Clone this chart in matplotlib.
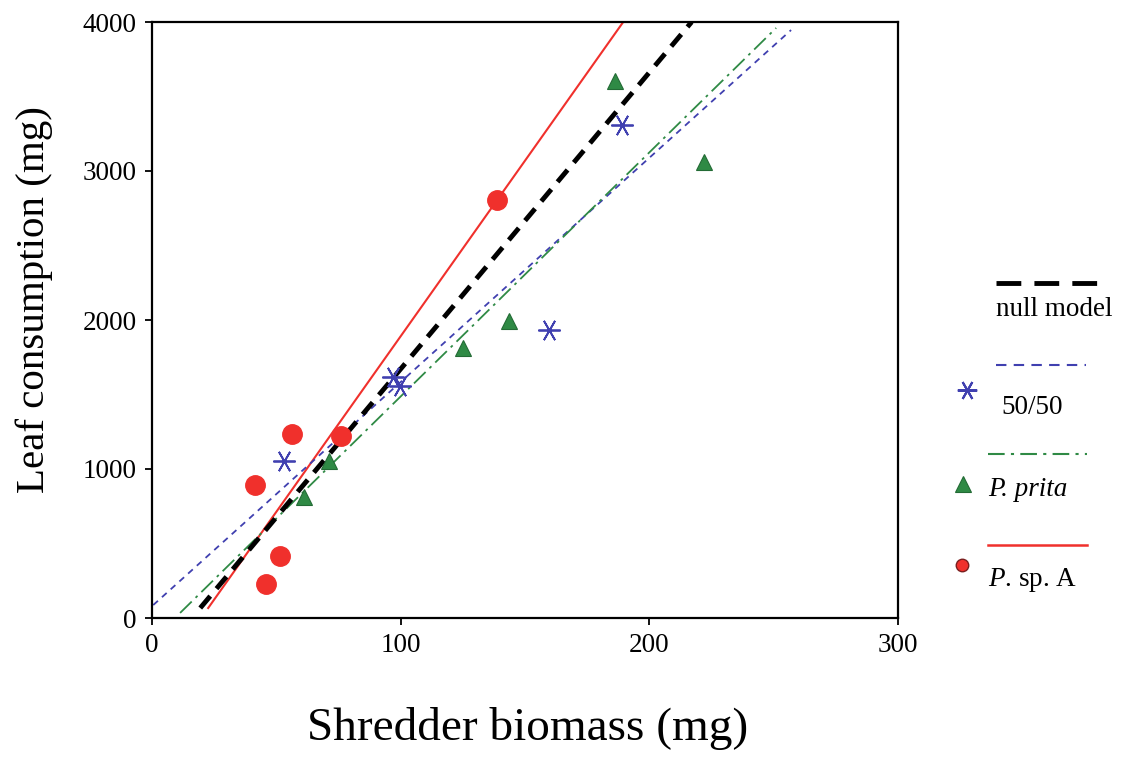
import matplotlib
matplotlib.use("Agg")
import matplotlib.pyplot as plt
import numpy as np

plt.rcParams['font.family'] = ['Liberation Serif', 'DejaVu Serif']
plt.rcParams['mathtext.fontset'] = 'custom'
plt.rcParams['mathtext.rm'] = 'Liberation Serif'
plt.rcParams['mathtext.it'] = 'Liberation Serif:italic'

# observed points
spA_x = [41.5, 56.5, 51.6, 46.0, 76.0, 138.7]
spA_y = [893, 1235, 416, 228, 1221, 2805]

mix_x = [53.0, 97.0, 99.6, 159.7, 189.0]
mix_y = [1054, 1617, 1557, 1933, 3309]

prita_x = [61.0, 71.0, 125.0, 143.5, 186.0, 222.0]
prita_y = [812, 1054, 1812, 1993, 3604, 3060]

# fitted lines (end points)
null_x = [19.4, 217.0]
null_y = [67, 4000]
mix_fit_x = [0.5, 257.0]
mix_fit_y = [87, 3946]
prita_fit_x = [11.3, 251.0]
prita_fit_y = [34, 3960]
spA_fit_x = [22.6, 189.5]
spA_fit_y = [67, 4000]

red = '#f0302c'
blue = '#4040b0'
green = '#2f8a45'

W, H = 1141, 757
fig = plt.figure(figsize=(W / 100, H / 100), dpi=100)
ax = fig.add_axes([152 / W, 1 - 618 / H, (898 - 152) / W, (618 - 22) / H])

ax.plot(spA_fit_x, spA_fit_y, color=red, lw=1.5, zorder=2)
ax.plot(null_x, null_y, color='black', lw=3.5, dashes=(3.2, 2.0), zorder=3)
ax.plot(mix_fit_x, mix_fit_y, color=blue, lw=1.3, dashes=(3.5, 3.0), zorder=2)
ax.plot(prita_fit_x, prita_fit_y, color=green, lw=1.3, dashes=(9, 3, 1.5, 3), zorder=2)

ax.plot(spA_x, spA_y, 'o', color=red, ms=14, mec=red, zorder=4)
ax.plot(prita_x, prita_y, '^', color=green, ms=11, mec='#236b35', mew=0.8, zorder=4)
ax.plot(mix_x, mix_y, marker=(6, 2, 90), ls='none', color=blue, ms=16, mew=1.3, zorder=5)

ax.set_xlim(0, 300)
ax.set_ylim(0, 4000)
ax.set_xticks([0, 100, 200, 300])
ax.set_yticks([0, 1000, 2000, 3000, 4000])
ax.tick_params(direction='out', length=5, width=1.3, labelsize=19.5, pad=6)
for s in ax.spines.values():
    s.set_linewidth(1.6)

fig.text(528 / W, 1 - 728 / H, 'Shredder biomass (mg)', ha='center', va='center', fontsize=34)
fig.text(34 / W, 1 - 300 / H, 'Leaf consumption (mg)', ha='center', va='center',
         rotation=90, fontsize=29.5)

# legend drawn in pixel coordinates
lg = fig.add_axes([0, 0, 1, 1])
lg.set_xlim(0, W)
lg.set_ylim(H, 0)
lg.axis('off')
lg.patch.set_alpha(0)

lg.plot([996, 1097], [283, 283], color='black', lw=3.5, dashes=(5.1, 2.7))
lg.text(996, 310, 'null model', fontsize=19.5, va='center', ha='left')

lg.plot([996, 1086], [365, 365], color=blue, lw=1.5, dashes=(5, 3.5))
lg.plot([967], [390], marker=(6, 2, 90), ls='none', color=blue, ms=14, mew=1.5)
lg.text(1001, 407, '50/50', fontsize=19.5, va='center', ha='left')

lg.plot([988, 1087], [454, 454], color=green, lw=1.5, dashes=(8, 3, 1.5, 3))
lg.plot([963], [484], '^', color=green, ms=11, mec='#236b35', mew=0.8)
lg.text(988, 490, 'P. prita', fontsize=19.5, fontstyle='italic', va='center', ha='left')

lg.plot([988, 1087], [545, 545], color=red, lw=1.8)
lg.plot([962], [565], 'o', color=red, ms=9, mec='#7a1f1f', mew=1.0)
lg.text(988, 580, r'$\it{P}$. sp. A', fontsize=19.5, va='center', ha='left')

fig.savefig('out.png', dpi=100)
